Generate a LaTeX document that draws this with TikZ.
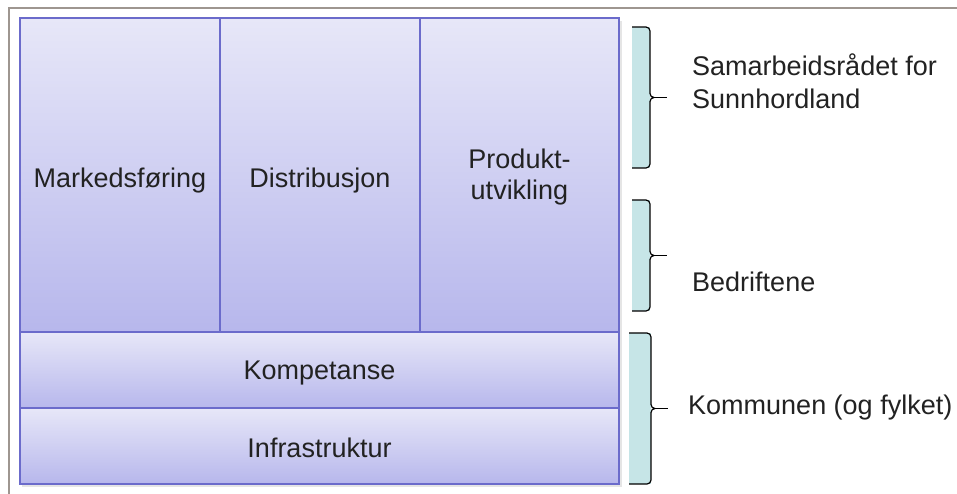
\documentclass[tikz,border=0pt]{standalone}
\usepackage{fontspec}
\setmainfont{Liberation Sans}
\definecolor{boxtop}{HTML}{E7E7F8}
\definecolor{boxbot}{HTML}{B7B7EC}
\definecolor{boxline}{HTML}{6B6BCB}
\definecolor{bracefill}{HTML}{C6E5E7}
\definecolor{framegray}{HTML}{9E9690}
\definecolor{txt}{HTML}{222222}
% curly bracket: #1 name, #2 left x, #3 right x, #4 top y, #5 bottom y
\newcommand{\sidebrace}[5]{%
  \fill[bracefill] (#2,#4) rectangle (#3,#5);
  \coordinate (#1) at ({#3+4},{(#4+#5)/2});
  \draw[bracestroke] (#2,#4) -- ({#3-4},#4) to[out=0,in=90] (#3,{#4+4})
    -- (#3,{(#4+#5)/2-4}) to[out=-90,in=180] (#1)
    to[out=180,in=90] (#3,{(#4+#5)/2+4})
    -- (#3,{#5-4}) to[out=-90,in=0] ({#3-4},#5) -- (#2,#5);
  \draw[bracestroke] (#1) -- ++(13,0);
}
\begin{document}
\begin{tikzpicture}[x=1pt,y=-1pt,
  cell/.style={draw=boxline, line width=1.4pt, top color=boxtop, bottom color=boxbot, inner sep=0pt},
  lbl/.style={font=\fontsize{27}{31}\selectfont, text=txt, align=center, inner sep=0pt},
  side/.style={font=\fontsize{27}{33}\selectfont, text=txt, anchor=west, align=left, inner sep=0pt},
  bracestroke/.style={draw=black, line width=1.2pt, line join=round}]
\useasboundingbox (0,0) rectangle (957,493);
\fill[white] (0,0) rectangle (957,493);
% outer frame
\draw[framegray, line width=2pt] (9,495) -- (9,8) -- (958,8);
% soft shadow under the block
\fill[black!10] (22,21) rectangle (622,487);
% top row of columns
\node[cell, minimum width=200pt, minimum height=314pt] (mark) at (120,175) {};
\node[cell, minimum width=200pt, minimum height=314pt] (dist) at (320,175) {};
\node[cell, minimum width=199pt, minimum height=314pt] (prod) at (519.5,175) {};
% lower layers
\node[cell, minimum width=599pt, minimum height=76pt] (komp) at (319.5,370) {};
\node[cell, minimum width=599pt, minimum height=76pt] (infra) at (319.5,446) {};
% texts
\node[lbl] (tmark) at (120,181) {Markedsføring};
\node[lbl] (tdist) at (320,181) {Distribusjon};
\node[lbl] (tprod) at (519.5,177) {Produkt-\\utvikling};
\node[lbl] (tkomp) at (319.5,373) {Kompetanse};
\node[lbl] (tinfra) at (319.5,448) {Infrastruktur};
% brackets
\sidebrace{b1}{632}{650}{27}{168}
\sidebrace{b2}{632}{650}{200}{311}
\sidebrace{b3}{629}{651}{333}{484}
% side labels
\node[side] (s1) at (692,81) {Samarbeidsrådet for\\Sunnhordland};
\node[side] (s2) at (692,282) {Bedriftene};
\node[side] (s3) at (688,408) {Kommunen (og fylket)};
\end{tikzpicture}
\end{document}
